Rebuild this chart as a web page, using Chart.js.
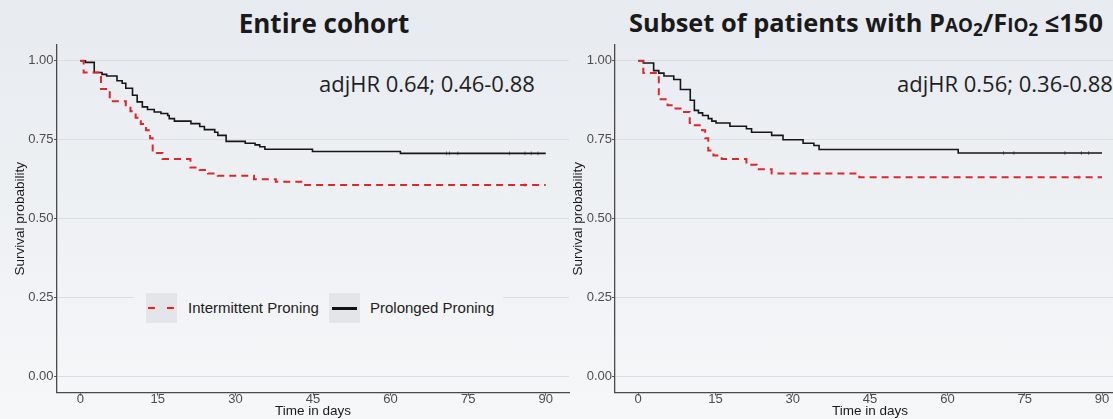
<!DOCTYPE html>
<html><head><meta charset="utf-8">
<script src="https://cdn.jsdelivr.net/npm/chart.js@4.4.1/dist/chart.umd.min.js"></script>
<style>
html,body{margin:0;padding:0;}
body{width:1113px;height:419px;overflow:hidden;position:relative;
  background:linear-gradient(180deg,#e7ebf0 0%,#edf0f3 45%,#f6f7f9 100%);
  font-family:"Liberation Sans",Arial,sans-serif;}
.wrap{position:absolute;top:0;height:419px;}
.title{position:absolute;font-family:"Open Sans",sans-serif;font-weight:700;font-size:26px;line-height:1;color:#1a1a1a;white-space:nowrap;}
.title .sc{font-size:0.74em;}
.title sub{font-size:0.68em;vertical-align:-0.22em;line-height:0;}
.hr{position:absolute;font-family:"Open Sans",sans-serif;font-size:22px;line-height:1;color:#1f1f1f;white-space:nowrap;}
#legend{position:absolute;left:134px;top:288px;width:369px;height:40px;
  background:linear-gradient(180deg,#e7ebf0 0%,#edf0f3 45%,#f6f7f9 100%);background-attachment:fixed;}
.key{position:absolute;top:5px;width:31px;height:30px;background:#e3e5e9;}
.ltext{position:absolute;top:0;height:40px;line-height:40px;font-size:15px;color:#222;white-space:nowrap;}
.dash{position:absolute;top:14px;height:2px;background:#ff1a1a;}
.solid{position:absolute;top:14px;height:2.5px;background:#111;}
</style>
</head><body>
<div class="title" style="left:124px;width:400px;text-align:center;top:9.5px;">Entire cohort</div>
<div class="title" style="left:629px;top:10px;font-size:25.4px;">Subset of patients with P<span class="sc">AO</span><sub>2</sub>/F<span class="sc">IO</span><sub>2</sub> ≤150</div>
<div class="hr" style="left:319px;top:72px;">adjHR 0.64; 0.46-0.88</div>
<div class="hr" style="left:897px;top:72px;">adjHR 0.56; 0.36-0.88</div>

<div class="wrap" style="left:0;width:580px;"><canvas id="c1" width="580" height="419"></canvas></div>
<div class="wrap" style="left:570px;width:560px;"><canvas id="c2" width="560" height="419"></canvas></div>

<div id="legend">
  <div class="key" style="left:12px;"><div class="dash" style="left:2px;width:7px;"></div><div class="dash" style="left:21px;width:7px;"></div></div>
  <div class="ltext" style="left:54px;">Intermittent Proning</div>
  <div class="key" style="left:195px;"><div class="solid" style="left:3px;width:25px;"></div></div>
  <div class="ltext" style="left:236px;">Prolonged Proning</div>
</div>

<script>
// ---- data ----
const xTicks = [0, 15, 30, 45, 60, 75, 90];
const yTicks = [0, 0.25, 0.5, 0.75, 1];
const seriesNames = ['Intermittent Proning', 'Prolonged Proning'];

// Entire cohort
const cohortIntermittentDays = [0, 0.65, 4.0, 5.7, 8.8, 9.7, 10.7, 11.7, 12.7, 13.5, 14.0, 14.8, 15.9, 21.3, 23.1, 24.7, 26.6, 33.6, 37.8, 43.2, 90];
const cohortIntermittentSurv = [1.000, 0.963, 0.911, 0.872, 0.859, 0.840, 0.820, 0.800, 0.780, 0.755, 0.716, 0.708, 0.689, 0.662, 0.654, 0.643, 0.636, 0.625, 0.617, 0.607, 0.607];
const cohortProlongedDays = [0, 1.0, 2.7, 4.2, 5.1, 7.1, 8.1, 8.8, 10.1, 11.0, 12.0, 13.0, 14.3, 15.6, 16.9, 17.2, 18.2, 21.4, 23.1, 24.0, 26.0, 26.6, 28.2, 31.9, 33.8, 34.7, 35.7, 44.9, 61.9, 90];
const cohortProlongedSurv = [1.000, 0.995, 0.963, 0.957, 0.952, 0.937, 0.929, 0.913, 0.891, 0.870, 0.854, 0.846, 0.838, 0.833, 0.827, 0.817, 0.809, 0.801, 0.792, 0.782, 0.774, 0.764, 0.745, 0.739, 0.734, 0.728, 0.720, 0.713, 0.707, 0.707];
const cohortIntermittentCensor = [86.0];
const cohortProlongedCensor = [70.8, 71.4, 73.0, 83.0, 86.0, 87.2, 88.5];

// Subset PaO2/FiO2 <= 150
const subsetIntermittentDays = [0, 1.0, 4.0, 5.7, 6.9, 8.5, 10.0, 10.7, 12.4, 13.0, 13.6, 14.6, 16.2, 21.0, 23.0, 25.9, 42.9, 90];
const subsetIntermittentSurv = [1.000, 0.961, 0.878, 0.859, 0.849, 0.838, 0.803, 0.796, 0.780, 0.755, 0.716, 0.700, 0.689, 0.671, 0.657, 0.643, 0.631, 0.631];
const subsetProlongedDays = [0, 1.0, 3.0, 4.0, 5.0, 6.9, 8.2, 10.1, 10.9, 11.7, 12.5, 13.6, 14.3, 15.1, 17.8, 21.0, 22.0, 25.9, 28.1, 32.0, 34.1, 35.1, 62.1, 90];
const subsetProlongedSurv = [1.000, 0.993, 0.969, 0.961, 0.952, 0.941, 0.909, 0.875, 0.843, 0.835, 0.827, 0.817, 0.809, 0.803, 0.793, 0.785, 0.774, 0.764, 0.750, 0.739, 0.732, 0.719, 0.708, 0.708];
const subsetIntermittentCensor = [85.5];
const subsetProlongedCensor = [70.9, 72.9, 82.8, 86.0, 87.4];

// ---- helpers ----
const RED = '#e0262b', BLACK = '#161616';
function pts(days, surv) { return days.map((d, i) => ({ x: d, y: surv[i] })); }
function stepAt(days, surv, t) { let v = surv[0]; for (let i = 0; i < days.length; i++) { if (days[i] <= t) v = surv[i]; } return v; }
function censorPts(times, days, surv) { return times.map(t => ({ x: t, y: stepAt(days, surv, t) })); }

function buildDatasets(iDays, iSurv, pDays, pSurv, iCens, pCens) {
  return [
    { label: seriesNames[0], data: pts(iDays, iSurv), showLine: true, stepped: true, borderColor: RED, borderWidth: 2, borderDash: [7, 5], pointRadius: 0, fill: false },
    { label: seriesNames[1], data: pts(pDays, pSurv), showLine: true, stepped: true, borderColor: BLACK, borderWidth: 1.6, pointRadius: 0, fill: false },
    { label: 'censor1', data: censorPts(iCens, iDays, iSurv), showLine: false, pointStyle: 'line', rotation: 90, pointRadius: 2, borderColor: 'rgba(224,38,43,0.7)', borderWidth: 0.8 },
    { label: 'censor2', data: censorPts(pCens, pDays, pSurv), showLine: false, pointStyle: 'line', rotation: 90, pointRadius: 2, borderColor: 'rgba(22,22,22,0.6)', borderWidth: 0.8 }
  ];
}

const tickFont = { family: 'Liberation Sans', size: 13, lineHeight: 1 };
const titleFont = { family: 'Liberation Sans', size: 13.5, lineHeight: 1.2 };

function makeChart(id, datasets, yAxisWidth, padRight, yTitlePad, yTickPad) {
  return new Chart(document.getElementById(id), {
    type: 'scatter',
    data: { datasets },
    options: {
      responsive: false, animation: false, devicePixelRatio: 1,
      layout: { padding: { top: 45, right: padRight, left: 0, bottom: 0 } },
      plugins: { legend: { display: false }, tooltip: { enabled: false } },
      scales: {
        x: {
          type: 'linear', min: -4.5, max: 94.5,
          afterBuildTicks: s => { s.ticks = xTicks.map(v => ({ value: v })); },
          afterFit: s => { s.height = 26.5; },
          grid: { drawOnChartArea: false, drawTicks: true, tickLength: 3, tickColor: '#555', tickWidth: 1 },
          border: { display: true, color: '#4a4a4a', width: 1.3 },
          ticks: { padding: -3, color: '#4d4d4d', font: tickFont, maxRotation: 0, autoSkip: false, callback: v => String(v) },
          title: { display: true, text: 'Time in days', color: '#1a1a1a', font: titleFont, padding: { top: 0, bottom: 0 } }
        },
        y: {
          min: -0.05, max: 1.05,
          afterBuildTicks: s => { s.ticks = yTicks.map(v => ({ value: v })); },
          afterFit: s => { s.width = yAxisWidth; },
          grid: { color: '#dadee3', lineWidth: 1, drawTicks: true, tickLength: 3, tickColor: '#555', tickWidth: 1 },
          border: { display: true, color: '#4a4a4a', width: 1.3 },
          ticks: { padding: yTickPad, color: '#4d4d4d', font: tickFont, callback: v => Number(v).toFixed(2) },
          title: { display: true, text: 'Survival probability', color: '#1a1a1a', font: titleFont, padding: { top: yTitlePad, bottom: 0 } }
        }
      }
    }
  });
}

makeChart('c1', buildDatasets(cohortIntermittentDays, cohortIntermittentSurv, cohortProlongedDays, cohortProlongedSurv, cohortIntermittentCensor, cohortProlongedCensor), 57, 11, 12.4, 0.5);
makeChart('c2', buildDatasets(subsetIntermittentDays, subsetIntermittentSurv, subsetProlongedDays, subsetProlongedSurv, subsetIntermittentCensor, subsetProlongedCensor), 45, 3.7, 0, 0);
</script>
</body></html>
